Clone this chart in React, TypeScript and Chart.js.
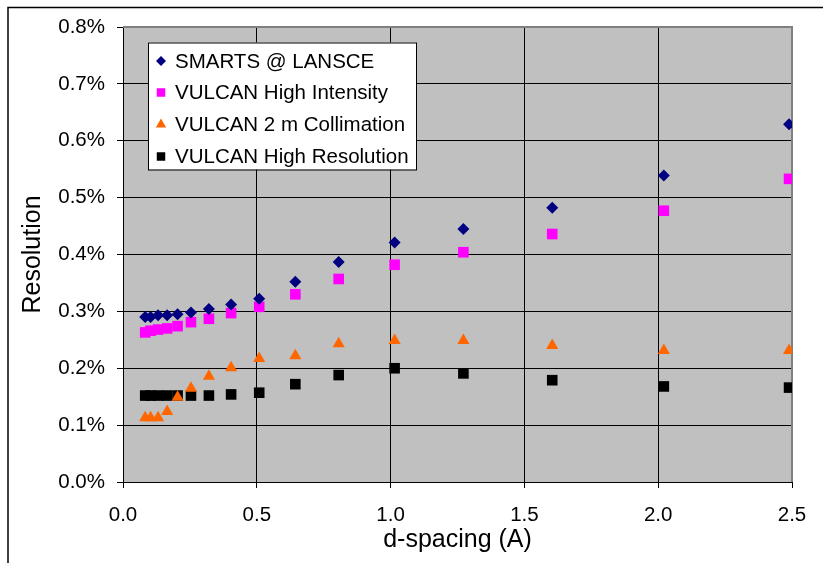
import React, { useEffect, useRef } from 'react';
import { Chart, registerables } from 'chart.js';
import { drawPoint } from 'chart.js/helpers';

Chart.register(...registerables);

// d-spacing (Angstrom)
const dSpacing = [0.083, 0.103, 0.131, 0.165, 0.204, 0.254, 0.321, 0.404, 0.509, 0.644, 0.806, 1.015, 1.272, 1.604, 2.021, 2.489];

// Resolution (%)
const smartsLansce = [0.290, 0.290, 0.293, 0.293, 0.295, 0.298, 0.304, 0.312, 0.322, 0.352, 0.387, 0.421, 0.445, 0.482, 0.539, 0.629];
const vulcanHighIntensity = [0.263, 0.266, 0.268, 0.270, 0.274, 0.281, 0.287, 0.297, 0.308, 0.330, 0.357, 0.382, 0.404, 0.436, 0.477, 0.533];
const vulcanCollimation = [0.113, 0.113, 0.113, 0.124, 0.149, 0.165, 0.186, 0.201, 0.217, 0.222, 0.243, 0.249, 0.249, 0.240, 0.231, 0.231];
const vulcanHighResolution = [0.152, 0.152, 0.152, 0.152, 0.152, 0.152, 0.152, 0.154, 0.157, 0.172, 0.188, 0.200, 0.191, 0.179, 0.168, 0.166];

const seriesNames = ['SMARTS @ LANSCE', 'VULCAN High Intensity', 'VULCAN 2 m Collimation', 'VULCAN High Resolution'];
const seriesColors = ['#000080', '#FF00FF', '#FF6600', '#000000'];
const seriesStyles = ['rectRot', 'rect', 'triangle', 'rect'];
const seriesRadius = [6, 7.5, 7, 7.5];
const legendRadius = [5, 6, 6, 6];

const xTitle = 'd-spacing (A)';
const yTitle = 'Resolution';

const FONT = '"Liberation Sans", Arial, sans-serif';

const toPoints = (ys: number[]) => ys.map((y, i) => ({ x: dSpacing[i], y }));

const framePlugin = {
  id: 'frame',
  beforeDraw(chart: any) {
    const { ctx, chartArea } = chart;
    ctx.save();
    ctx.fillStyle = '#C0C0C0';
    ctx.fillRect(chartArea.left, chartArea.top, chartArea.right - chartArea.left, chartArea.bottom - chartArea.top);
    ctx.strokeStyle = '#000';
    ctx.lineWidth = 1.5;
    ctx.beginPath();
    ctx.moveTo(8, 563);
    ctx.lineTo(8, 7.5);
    ctx.lineTo(823, 7.5);
    ctx.stroke();
    ctx.restore();
  },
  beforeDatasetsDraw(chart: any) {
    const { ctx, chartArea } = chart;
    ctx.save();
    ctx.strokeStyle = '#808080';
    ctx.lineWidth = 2;
    ctx.beginPath();
    ctx.moveTo(chartArea.left, chartArea.top);
    ctx.lineTo(chartArea.right, chartArea.top);
    ctx.lineTo(chartArea.right, chartArea.bottom);
    ctx.stroke();
    ctx.restore();
  },
};

const legendPlugin = {
  id: 'boxLegend',
  afterDraw(chart: any) {
    const { ctx } = chart;
    const x0 = 148, y0 = 42.5, w = 268, h = 127;
    ctx.save();
    ctx.fillStyle = '#FFFFFF';
    ctx.fillRect(x0, y0, w, h);
    ctx.strokeStyle = '#000';
    ctx.lineWidth = 1;
    ctx.strokeRect(x0 + 0.5, y0 + 0.5, w, h);
    const rowY = [61, 92.5, 124.5, 156.5];
    ctx.font = `20.5px ${FONT}`;
    ctx.textBaseline = 'middle';
    ctx.textAlign = 'left';
    seriesNames.forEach((name, i) => {
      ctx.fillStyle = seriesColors[i];
      drawPoint(ctx, { pointStyle: seriesStyles[i], radius: legendRadius[i], rotation: 0, borderWidth: 0 } as any, 161, rowY[i]);
      ctx.fillStyle = '#000';
      ctx.fillText(name, 175, rowY[i] + 1);
    });
    ctx.restore();
  },
};

export default function App() {
  const ref = useRef<HTMLCanvasElement | null>(null);

  useEffect(() => {
    if (!ref.current) return;
    const series = [smartsLansce, vulcanHighIntensity, vulcanCollimation, vulcanHighResolution];
    const chart = new Chart(ref.current, {
      type: 'scatter',
      data: {
        datasets: series.map((ys, i) => ({
          label: seriesNames[i],
          data: toPoints(ys),
          pointStyle: seriesStyles[i] as any,
          pointRadius: seriesRadius[i],
          pointHoverRadius: seriesRadius[i],
          backgroundColor: seriesColors[i],
          borderColor: seriesColors[i],
          borderWidth: 0,
          showLine: false,
        })),
      },
      options: {
        animation: false,
        responsive: true,
        maintainAspectRatio: false,
        layout: { padding: { top: 27, right: 31, bottom: 0, left: 0 } },
        plugins: {
          legend: { display: false },
          tooltip: { enabled: false },
        },
        scales: {
          x: {
            type: 'linear',
            min: 0,
            max: 2.5,
            afterFit: (s: any) => { s.height = 81; },
            ticks: {
              stepSize: 0.5,
              autoSkip: false,
              maxRotation: 0,
              padding: 15,
              color: '#000',
              font: { family: FONT, size: 20.5 },
              callback: (v: any) => Number(v).toFixed(1),
            },
            grid: { color: '#000', lineWidth: 1, tickLength: 6, tickColor: '#000', drawTicks: true },
            border: { display: true, color: '#000', width: 1 },
            title: {
              display: true,
              text: xTitle,
              color: '#000',
              font: { family: FONT, size: 25 },
              padding: { top: 0, bottom: 8 },
            },
          },
          y: {
            type: 'linear',
            min: 0,
            max: 0.8,
            afterFit: (s: any) => { s.width = 123; },
            ticks: {
              stepSize: 0.1,
              autoSkip: false,
              padding: 12,
              color: '#000',
              font: { family: FONT, size: 20.5 },
              callback: (v: any) => Number(v).toFixed(1) + '%',
            },
            grid: { color: '#000', lineWidth: 1, tickLength: 6, tickColor: '#000', drawTicks: true },
            border: { display: true, color: '#000', width: 1 },
            title: {
              display: true,
              text: yTitle,
              color: '#000',
              font: { family: FONT, size: 25 },
              padding: { top: 18, bottom: 0 },
            },
          },
        },
      },
      plugins: [framePlugin, legendPlugin],
    });
    return () => chart.destroy();
  }, []);

  return (
    <div style={{ position: 'absolute', left: 0, top: 0, width: 823, height: 563, background: '#fff' }}>
      <canvas ref={ref} />
    </div>
  );
}
